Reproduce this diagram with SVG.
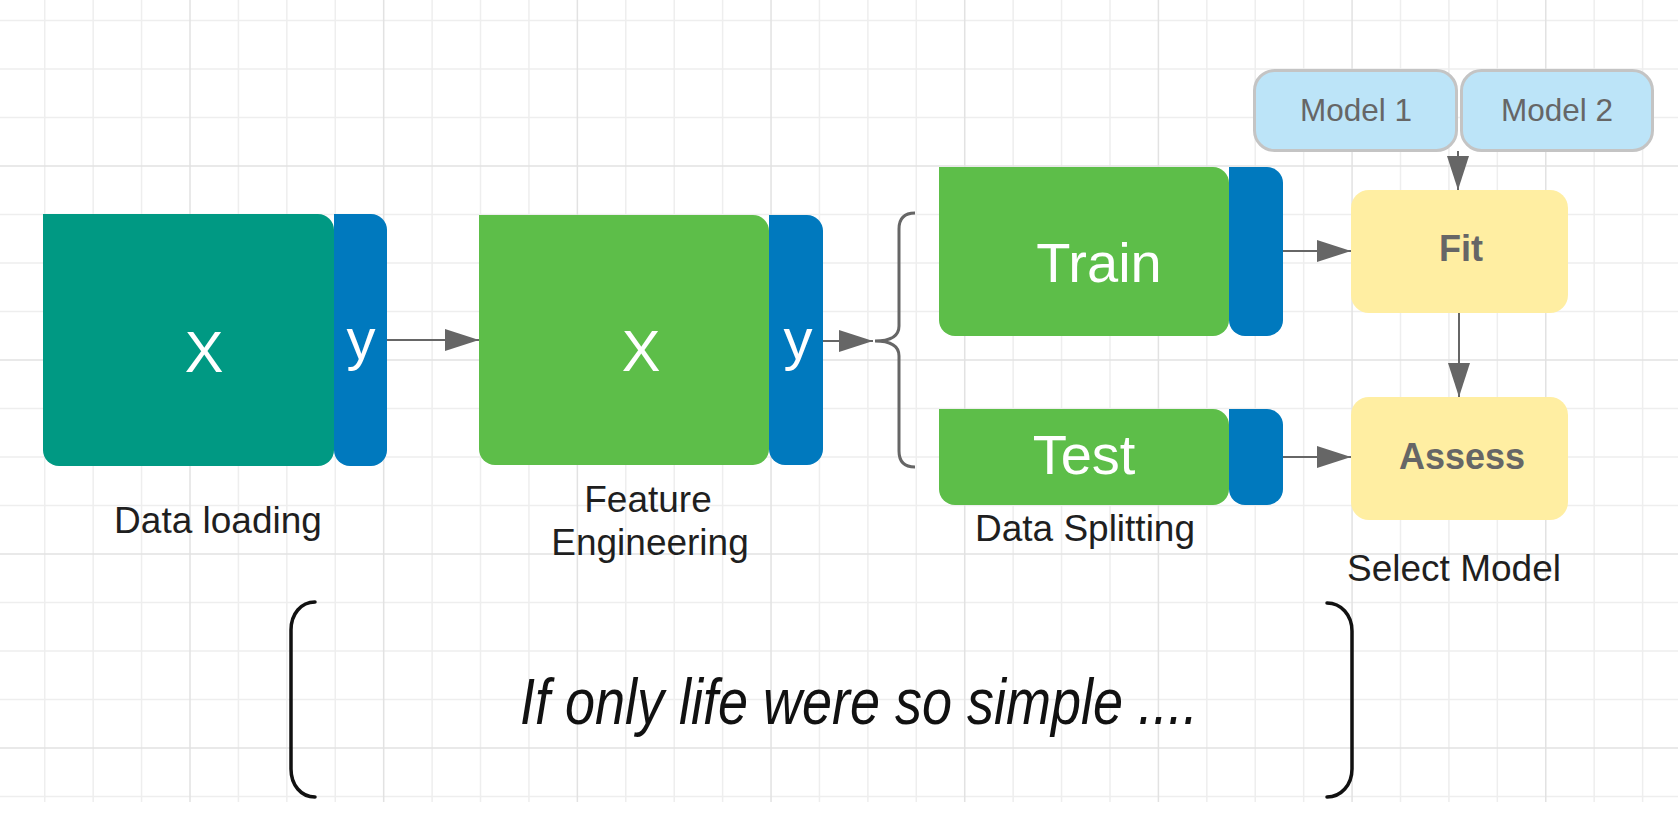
<svg xmlns="http://www.w3.org/2000/svg" width="1678" height="818" viewBox="0 0 1678 818">
<style>
.gmin{stroke:#EEEEEE;stroke-width:1.5;fill:none}
.gmaj{stroke:#E2E2E2;stroke-width:1.5;fill:none}
.teal{fill:#009983}
.blue{fill:#0079BE}
.green{fill:#5DBE49}
.yellow{fill:#FFEEA2}
.model{fill:#BCE4F8;stroke:#C4C4C4;stroke-width:3}
.big{font-family:"Liberation Sans",Arial,sans-serif;fill:#FFFFFF;text-anchor:middle}
.lbl{font-family:"Liberation Sans",Arial,sans-serif;font-size:37px;fill:#1F1F1F;text-anchor:middle}
.mtxt{font-family:"Liberation Sans",Arial,sans-serif;font-size:31.5px;fill:#666666;text-anchor:middle}
.btxt{font-family:"Liberation Sans",Arial,sans-serif;font-size:36px;font-weight:bold;fill:#666666;text-anchor:middle}
.conn{stroke:#666666;stroke-width:2;fill:none}
.brace{stroke:#666666;stroke-width:3;fill:none}
.paren{stroke:#111111;stroke-width:3.5;fill:none;stroke-linecap:round}
</style>
<defs>
<marker id="arr" viewBox="0 0 34 22" refX="34" refY="11" markerWidth="34" markerHeight="22" markerUnits="userSpaceOnUse" orient="auto">
<path d="M0,0 L34,11 L0,22 Z" fill="#666666"/>
</marker>
</defs>
<rect x="0" y="0" width="1678" height="818" fill="#FFFFFF"/>
<g id="grid">
<path class="gmin" d="M44.74,0V802M93.16,0V802M141.58,0V802M238.42,0V802M286.84,0V802M335.26,0V802M432.1,0V802M480.52,0V802M528.94,0V802M625.78,0V802M674.2,0V802M722.62,0V802M819.46,0V802M867.88,0V802M916.3,0V802M1013.14,0V802M1061.56,0V802M1109.98,0V802M1206.82,0V802M1255.24,0V802M1303.66,0V802M1400.5,0V802M1448.92,0V802M1497.34,0V802M1594.18,0V802M1642.6,0V802M0,20.5H1678M0,69H1678M0,117.5H1678M0,214.5H1678M0,263H1678M0,311.5H1678M0,408.5H1678M0,457H1678M0,505.5H1678M0,602.5H1678M0,651H1678M0,699.5H1678M0,796.5H1678"/>
<path class="gmaj" d="M190,0V802M383.68,0V802M577.36,0V802M771.04,0V802M964.72,0V802M1158.4,0V802M1352.08,0V802M1545.76,0V802M0,166H1678M0,360H1678M0,554H1678M0,748H1678"/>
</g>
<g id="connectors">
<line class="conn" x1="387" y1="340" x2="479" y2="340" marker-end="url(#arr)"/>
<line class="conn" x1="823" y1="341" x2="873" y2="341" marker-end="url(#arr)"/>
<line class="conn" x1="1283" y1="251" x2="1351" y2="251" marker-end="url(#arr)"/>
<line class="conn" x1="1283" y1="457" x2="1351" y2="457" marker-end="url(#arr)"/>
<line class="conn" x1="1458" y1="151" x2="1458" y2="190" marker-end="url(#arr)"/>
<line class="conn" x1="1459" y1="313" x2="1459" y2="397" marker-end="url(#arr)"/>
</g>
<g id="data-loading">
<path class="teal" d="M43,214H318A16,16 0 0 1 334,230V450A16,16 0 0 1 318,466H59A16,16 0 0 1 43,450Z"/>
<path class="blue" d="M334,214H371A16,16 0 0 1 387,230V450A16,16 0 0 1 371,466H350A16,16 0 0 1 334,450Z"/>
<text class="big" x="204" y="372" font-size="58">X</text>
<text class="big" x="361" y="359" font-size="58">y</text>
<text class="lbl" x="218" y="533">Data loading</text>
</g>
<g id="feature-engineering">
<path class="green" d="M479,215H753A16,16 0 0 1 769,231V449A16,16 0 0 1 753,465H495A16,16 0 0 1 479,449Z"/>
<path class="blue" d="M769,215H807A16,16 0 0 1 823,231V449A16,16 0 0 1 807,465H785A16,16 0 0 1 769,449Z"/>
<text class="big" x="641" y="371" font-size="58">X</text>
<text class="big" x="798" y="359" font-size="58">y</text>
<text class="lbl" x="648" y="512">Feature</text>
<text class="lbl" x="650" y="555">Engineering</text>
</g>
<g id="split-brace">
<path class="brace" d="M915,213Q899,213 899,229V326Q899,341 875,341Q899,341 899,356V451Q899,467 915,467"/>
</g>
<g id="train">
<path class="green" d="M939,167H1213A16,16 0 0 1 1229,183V320A16,16 0 0 1 1213,336H955A16,16 0 0 1 939,320Z"/>
<path class="blue" d="M1229,167H1267A16,16 0 0 1 1283,183V320A16,16 0 0 1 1267,336H1245A16,16 0 0 1 1229,320Z"/>
<text class="big" x="1099" y="282" font-size="56">Train</text>
</g>
<g id="test">
<path class="green" d="M939,409H1213A16,16 0 0 1 1229,425V489A16,16 0 0 1 1213,505H955A16,16 0 0 1 939,489Z"/>
<path class="blue" d="M1229,409H1267A16,16 0 0 1 1283,425V489A16,16 0 0 1 1267,505H1245A16,16 0 0 1 1229,489Z"/>
<text class="big" x="1084" y="474" font-size="56">Test</text>
<text class="lbl" x="1085" y="541">Data Splitting</text>
</g>
<g id="model-1">
<rect class="model" x="1254.5" y="70.5" width="202" height="80" rx="20"/>
<text class="mtxt" x="1356" y="121">Model 1</text>
</g>
<g id="model-2">
<rect class="model" x="1461.5" y="70.5" width="191" height="80" rx="20"/>
<text class="mtxt" x="1557" y="121">Model 2</text>
</g>
<g id="fit">
<rect class="yellow" x="1351" y="190" width="217" height="123" rx="18"/>
<text class="btxt" x="1461" y="261">Fit</text>
</g>
<g id="assess">
<rect class="yellow" x="1351" y="397" width="217" height="123" rx="18"/>
<text class="btxt" x="1462" y="469">Assess</text>
<text class="lbl" x="1454" y="581">Select Model</text>
</g>
<g id="caption">
<path class="paren" d="M315,602C301,602 291,614 291,630V769C291,785 301,797 315,797"/>
<path class="paren" d="M1327,603C1341,603 1352,615 1352,631V769C1352,785 1341,797 1327,797"/>
<text x="520" y="724" font-family="'Liberation Sans',Arial,sans-serif" font-style="italic" font-size="64" fill="#111111" textLength="678" lengthAdjust="spacingAndGlyphs">If only life were so simple ....</text>
</g>
</svg>
